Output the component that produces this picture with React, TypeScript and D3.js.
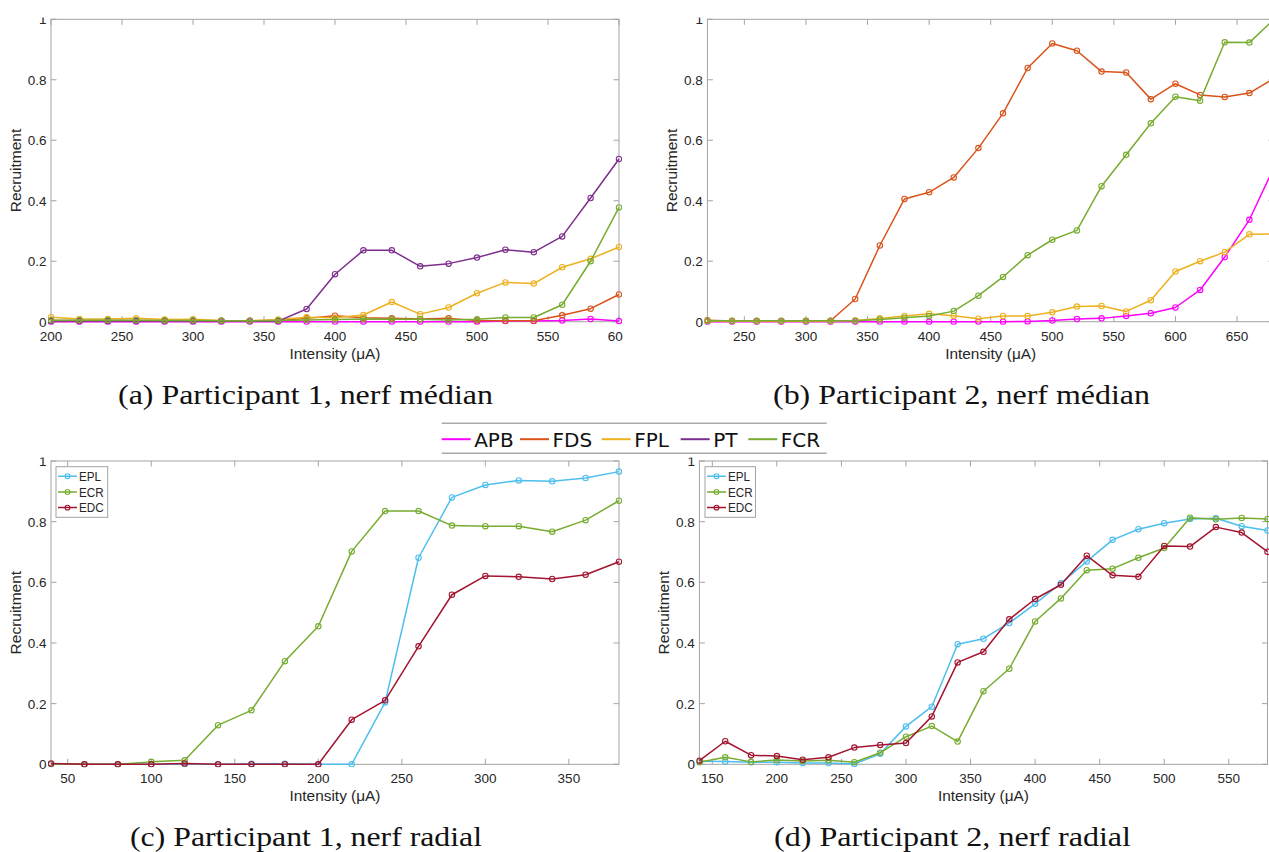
import React from "react";
import * as d3 from "d3";

// ---------------- Data ----------------
const medianNames = ["APB", "FDS", "FPL", "PT", "FCR"];
const radialNames = ["EPL", "ECR", "EDC"];

// (a) Participant 1, median nerve
const intensityA = [200, 220, 240, 260, 280, 300, 320, 340, 360, 380, 400, 420, 440, 460, 480, 500, 520, 540, 560, 580, 600];
const apbA = [0, 0, 0, 0, 0, 0, 0, 0, 0, 0, 0, 0, 0, 0, 0, 0, 0.002, 0.002, 0.004, 0.009, 0.002];
const fdsA = [0.004, 0.004, 0.004, 0.004, 0.004, 0.004, 0.003, 0.003, 0.004, 0.011, 0.02, 0.013, 0.011, 0.009, 0.011, 0.004, 0.003, 0.003, 0.021, 0.043, 0.09];
const fplA = [0.015, 0.009, 0.009, 0.011, 0.007, 0.008, 0.004, 0.003, 0.007, 0.015, 0.013, 0.022, 0.065, 0.025, 0.047, 0.094, 0.13, 0.126, 0.18, 0.208, 0.247];
const ptA = [0.002, 0.002, 0.002, 0.002, 0.002, 0.002, 0.002, 0.002, 0.002, 0.042, 0.157, 0.236, 0.236, 0.183, 0.192, 0.212, 0.238, 0.23, 0.282, 0.409, 0.538];
const fcrA = [0.005, 0.005, 0.005, 0.005, 0.004, 0.004, 0.003, 0.003, 0.004, 0.006, 0.007, 0.009, 0.008, 0.008, 0.006, 0.008, 0.014, 0.014, 0.056, 0.2, 0.378];

// (b) Participant 2, median nerve
const intensityB = [220, 240, 260, 280, 300, 320, 340, 360, 380, 400, 420, 440, 460, 480, 500, 520, 540, 560, 580, 600, 620, 640, 660, 680];
const apbB = [0, 0, 0, 0, 0, 0, 0, 0, 0, 0, 0, 0, 0, 0.001, 0.004, 0.009, 0.011, 0.019, 0.028, 0.047, 0.105, 0.214, 0.337, 0.51];
const fdsB = [0.005, 0.002, 0.002, 0.002, 0.002, 0.003, 0.075, 0.252, 0.406, 0.428, 0.477, 0.574, 0.689, 0.839, 0.92, 0.896, 0.827, 0.824, 0.736, 0.787, 0.75, 0.743, 0.756, 0.805];
const fplB = [0.002, 0.002, 0.002, 0.002, 0.002, 0.002, 0.004, 0.011, 0.019, 0.026, 0.02, 0.01, 0.019, 0.019, 0.031, 0.05, 0.052, 0.034, 0.071, 0.166, 0.2, 0.23, 0.289, 0.29];
const fcrB = [0.002, 0.003, 0.003, 0.003, 0.003, 0.003, 0.003, 0.007, 0.013, 0.019, 0.035, 0.086, 0.148, 0.22, 0.271, 0.302, 0.448, 0.552, 0.656, 0.744, 0.731, 0.924, 0.923, 1.0];

// (c) Participant 1, radial nerve
const intensityC = [40, 60, 80, 100, 120, 140, 160, 180, 200, 220, 240, 260, 280, 300, 320, 340, 360, 380];
const eplC = [0, 0, 0, 0, 0, 0, 0.002, 0.002, 0, 0, 0.204, 0.681, 0.88, 0.921, 0.936, 0.933, 0.944, 0.965];
const ecrC = [0.001, 0, 0, 0.008, 0.013, 0.129, 0.178, 0.34, 0.455, 0.702, 0.835, 0.835, 0.787, 0.785, 0.785, 0.767, 0.805, 0.869];
const edcC = [0.003, 0, 0, 0, 0.003, 0, 0, 0, 0, 0.147, 0.211, 0.389, 0.559, 0.621, 0.618, 0.611, 0.625, 0.668];

// (d) Participant 2, radial nerve
const intensityD = [140, 160, 180, 200, 220, 240, 260, 280, 300, 320, 340, 360, 380, 400, 420, 440, 460, 480, 500, 520, 540, 560, 580];
const eplD = [0.01, 0.009, 0.007, 0.007, 0.004, 0.004, 0.001, 0.035, 0.125, 0.19, 0.396, 0.414, 0.466, 0.529, 0.597, 0.669, 0.74, 0.775, 0.795, 0.809, 0.811, 0.785, 0.771];
const ecrD = [0.007, 0.023, 0.008, 0.014, 0.011, 0.013, 0.007, 0.038, 0.091, 0.126, 0.075, 0.241, 0.315, 0.471, 0.547, 0.64, 0.645, 0.681, 0.713, 0.813, 0.808, 0.812, 0.809];
const edcD = [0.012, 0.076, 0.03, 0.027, 0.015, 0.023, 0.055, 0.064, 0.07, 0.158, 0.336, 0.371, 0.478, 0.545, 0.592, 0.688, 0.623, 0.618, 0.72, 0.718, 0.782, 0.764, 0.701];

const xTicksA = [200, 250, 300, 350, 400, 450, 500, 550, 600];
const xTicksB = [250, 300, 350, 400, 450, 500, 550, 600, 650];
const xTicksC = [50, 100, 150, 200, 250, 300, 350];
const xTicksD = [150, 200, 250, 300, 350, 400, 450, 500, 550];
const yTicks = [0, 0.2, 0.4, 0.6, 0.8, 1];
const yTickLabels = ["0", "0.2", "0.4", "0.6", "0.8", "1"];

const captions = [
  "(a) Participant 1, nerf médian",
  "(b) Participant 2, nerf médian",
  "(c) Participant 1, nerf radial",
  "(d) Participant 2, nerf radial",
];
const xLabel = "Intensity (μA)";
const yLabel = "Recruitment";

// ---------------- Styles ----------------
const colors: Record<string, string> = {
  APB: "#FF00FF",
  FDS: "#D95319",
  FPL: "#EDB120",
  PT: "#7E2F8E",
  FCR: "#77AC30",
  EPL: "#4DBEEE",
  ECR: "#77AC30",
  EDC: "#A2142F",
};
const AXIS = "#a3a3a3";
const TXT = "#262626";
const SANS = "'Liberation Sans', Arial, Helvetica, sans-serif";

type Series = { name: string; values: number[] };
type PanelDef = {
  id: string;
  xs: number[];
  xDomain: [number, number];
  xTicks: number[];
  left: number;
  right: number;
  top: number;
  bottom: number;
  crop: { x0: number; x1: number; y0: number; y1: number };
  series: Series[];
  inset?: { x: number; y: number; w: number; h: number };
};

const panels: PanelDef[] = [
  {
    id: "a",
    xs: intensityA,
    xDomain: [200, 600],
    xTicks: xTicksA,
    left: 51,
    right: 619,
    top: 19.3,
    bottom: 321.7,
    crop: { x0: 0, x1: 623, y0: 17.5, y1: 380 },
    series: [
      { name: "APB", values: apbA },
      { name: "FDS", values: fdsA },
      { name: "FPL", values: fplA },
      { name: "PT", values: ptA },
      { name: "FCR", values: fcrA },
    ],
  },
  {
    id: "b",
    xs: intensityB,
    xDomain: [220, 680],
    xTicks: xTicksB,
    left: 707.4,
    right: 1274,
    top: 19.3,
    bottom: 321.7,
    crop: { x0: 640, x1: 1269, y0: 17.5, y1: 380 },
    series: [
      { name: "APB", values: apbB },
      { name: "FDS", values: fdsB },
      { name: "FPL", values: fplB },
      { name: "FCR", values: fcrB },
    ],
  },
  {
    id: "c",
    xs: intensityC,
    xDomain: [40, 380],
    xTicks: xTicksC,
    left: 51,
    right: 619,
    top: 461,
    bottom: 764.3,
    crop: { x0: 0, x1: 630, y0: 457.5, y1: 815 },
    series: [
      { name: "EPL", values: eplC },
      { name: "ECR", values: ecrC },
      { name: "EDC", values: edcC },
    ],
    inset: { x: 56, y: 466.7, w: 51.7, h: 50.6 },
  },
  {
    id: "d",
    xs: intensityD,
    xDomain: [140, 580],
    xTicks: xTicksD,
    left: 699.4,
    right: 1267.5,
    top: 461,
    bottom: 764.3,
    crop: { x0: 640, x1: 1269, y0: 457.5, y1: 815 },
    series: [
      { name: "EPL", values: eplD },
      { name: "ECR", values: ecrD },
      { name: "EDC", values: edcD },
    ],
    inset: { x: 705, y: 466.7, w: 50.5, h: 50.6 },
  },
];

const captionLayout = [
  { x: 118, y: 404, w: 375 },
  { x: 773, y: 404, w: 377 },
  { x: 130, y: 846, w: 352 },
  { x: 774, y: 846, w: 357 },
];

const legendLayout = { x0: 441.7, x1: 826.7, yTop: 423.3, yBot: 453.3, itemX: [441.7, 520, 601.7, 680.7, 748.3], lineLen: 29, baseline: 446.7 };

function Panel({ p }: { p: PanelDef }) {
  const x = d3.scaleLinear().domain(p.xDomain).range([p.left, p.right]);
  const y = d3.scaleLinear().domain([0, 1]).range([p.bottom, p.top]);
  const tl = 5.5;
  const cropId = `crop-${p.id}`;
  const plotId = `plot-${p.id}`;
  const mid = (p.left + p.right) / 2;
  return (
    <g>
      <defs>
        <clipPath id={cropId}>
          <rect x={p.crop.x0} y={p.crop.y0} width={p.crop.x1 - p.crop.x0} height={p.crop.y1 - p.crop.y0} />
        </clipPath>
        <clipPath id={plotId}>
          <rect x={p.left - 3} y={p.top - 3} width={p.right - p.left + 6} height={p.bottom - p.top + 6} />
        </clipPath>
      </defs>
      <g clipPath={`url(#${cropId})`}>
        <rect x={p.left} y={p.top} width={p.right - p.left} height={p.bottom - p.top} fill="none" stroke={AXIS} strokeWidth={1} />
        {p.xTicks.map((t) => (
          <g key={`xt${t}`}>
            <line x1={x(t)} x2={x(t)} y1={p.bottom} y2={p.bottom - tl} stroke={AXIS} />
            <line x1={x(t)} x2={x(t)} y1={p.top} y2={p.top + tl} stroke={AXIS} />
            <text x={x(t)} y={p.bottom + 19} textAnchor="middle" fontFamily={SANS} fontSize={13.5} fill={TXT}>
              {t}
            </text>
          </g>
        ))}
        {yTicks.map((t, i) => (
          <g key={`yt${t}`}>
            <line x1={p.left} x2={p.left + tl} y1={y(t)} y2={y(t)} stroke={AXIS} />
            <line x1={p.right} x2={p.right - tl} y1={y(t)} y2={y(t)} stroke={AXIS} />
            <text x={p.left - 4.5} y={y(t) + 5} textAnchor="end" fontFamily={SANS} fontSize={13.5} fill={TXT}>
              {yTickLabels[i]}
            </text>
          </g>
        ))}
        <text x={mid} y={p.bottom + 37} textAnchor="middle" fontFamily={SANS} fontSize={14} fill={TXT} textLength={91} lengthAdjust="spacingAndGlyphs">
          {xLabel}
        </text>
        <text
          transform={`translate(${p.left - 30},${(p.top + p.bottom) / 2}) rotate(-90)`}
          textAnchor="middle"
          fontFamily={SANS}
          fontSize={15.5}
          fill={TXT}
        >
          {yLabel}
        </text>
        <g clipPath={`url(#${plotId})`}>
          {p.series.map((s) => {
            const line = d3
              .line<number>()
              .x((_, i) => x(p.xs[i]))
              .y((d) => y(d));
            return (
              <g key={s.name}>
                <path d={line(s.values) || ""} fill="none" stroke={colors[s.name]} strokeWidth={1.5} strokeLinejoin="round" />
                {s.values.map((v, i) => (
                  <circle key={i} cx={x(p.xs[i])} cy={y(v)} r={2.7} fill="none" stroke={colors[s.name]} strokeWidth={1.1} />
                ))}
              </g>
            );
          })}
        </g>
        {p.inset && (
          <g>
            <rect x={p.inset.x} y={p.inset.y} width={p.inset.w} height={p.inset.h} fill="white" stroke={AXIS} strokeWidth={1} />
            {p.series.map((s, i) => {
              const yy = p.inset!.y + 9.5 + i * 15.7;
              const lx = p.inset!.x + 2;
              return (
                <g key={`lg${s.name}`}>
                  <line x1={lx} x2={lx + 19} y1={yy} y2={yy} stroke={colors[s.name]} strokeWidth={1.5} />
                  <circle cx={lx + 9.5} cy={yy} r={2.4} fill="none" stroke={colors[s.name]} strokeWidth={1.1} />
                  <text x={lx + 21} y={yy + 4.8} fontFamily={SANS} fontSize={13} fill={TXT} transform={`translate(${(lx + 21) * 0.1},0) scale(0.9,1)`}>
                    {s.name}
                  </text>
                </g>
              );
            })}
          </g>
        )}
      </g>
    </g>
  );
}

export default function App() {
  const L = legendLayout;
  return (
    <svg
      width={1269}
      height={852}
      viewBox="0 0 1269 852"
      style={{ position: "absolute", left: 0, top: 0, background: "white", display: "block" }}
    >
      <rect x={0} y={0} width={1269} height={852} fill="white" />
      {panels.map((p) => (
        <Panel key={p.id} p={p} />
      ))}
      {captions.map((c, i) => (
        <text
          key={c}
          x={captionLayout[i].x}
          y={captionLayout[i].y}
          fontFamily="'Liberation Serif', 'DejaVu Serif', serif"
          fontSize={28}
          fill="#111"
          textLength={captionLayout[i].w}
          lengthAdjust="spacingAndGlyphs"
        >
          {c}
        </text>
      ))}
      <g>
        <line x1={L.x0} x2={L.x1} y1={L.yTop} y2={L.yTop} stroke="#ababab" strokeWidth={1.6} />
        <line x1={L.x0} x2={L.x1} y1={L.yBot} y2={L.yBot} stroke="#ababab" strokeWidth={1.6} />
        {medianNames.map((n, i) => (
          <g key={`L${n}`}>
            <line x1={L.itemX[i]} x2={L.itemX[i] + L.lineLen} y1={L.baseline - 7.5} y2={L.baseline - 7.5} stroke={colors[n]} strokeWidth={2} />
            <text x={L.itemX[i] + L.lineLen + 3.5} y={L.baseline} fontFamily="'DejaVu Sans', sans-serif" fontSize={20} fill="#111">
              {n}
            </text>
          </g>
        ))}
      </g>
    </svg>
  );
}
